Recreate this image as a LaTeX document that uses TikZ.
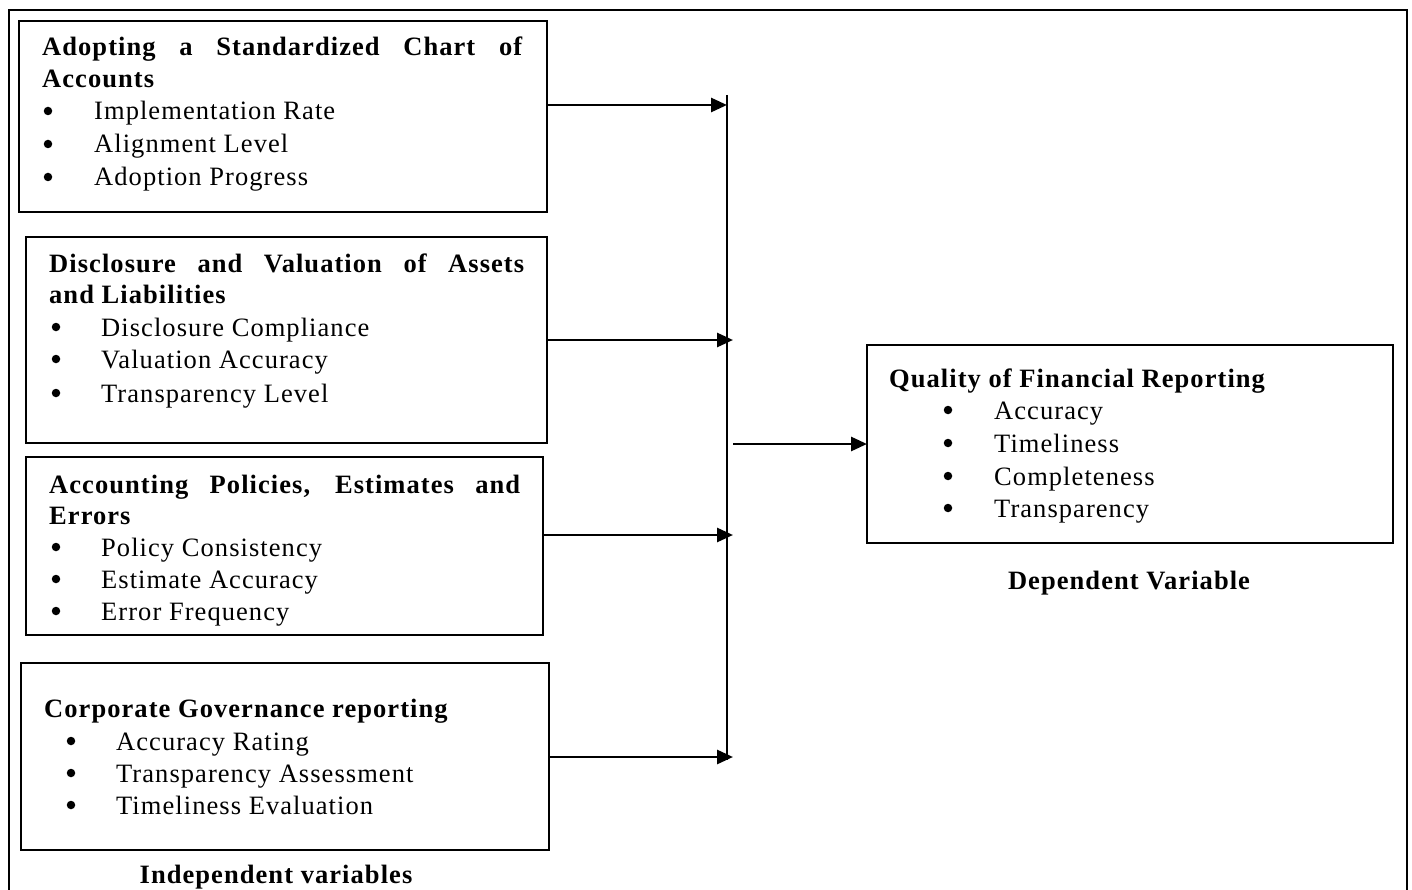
\documentclass[tikz,border=0pt]{standalone}
\usepackage{fontspec}
\setmainfont{Liberation Serif}[LetterSpace=4]
\usetikzlibrary{arrows.meta}
\begin{document}
\begin{tikzpicture}[x=1pt,y=-1pt,
  box/.style={draw, line width=2.8pt, inner sep=0pt, outer sep=0pt},
  ttl/.style={anchor=base west, inner sep=0pt, font=\fontsize{26.5}{30}\selectfont\bfseries},
  itm/.style={anchor=base west, inner sep=0pt, font=\fontsize{26.5}{30}\selectfont},
  bul/.style={circle, fill, inner sep=0pt, minimum size=8.5pt},
  lbl/.style={anchor=base, inner sep=0pt, font=\fontsize{26.5}{30}\selectfont\bfseries},
  conn/.style={line width=2.8pt},
  arr/.style={line width=2.8pt, -{Triangle[length=16pt,width=14pt]}}]
\useasboundingbox (0,0) rectangle (1412,890);
\draw[line width=2pt] (9,895) -- (9,10) -- (1407,10) -- (1407,895);

% boxes
\node[box, minimum width=528pt, minimum height=191pt] (b1) at (283,116.5) {};
\node[box, minimum width=521pt, minimum height=206pt] (b2) at (286.5,340) {};
\node[box, minimum width=517pt, minimum height=178pt] (b3) at (284.5,546) {};
\node[box, minimum width=528pt, minimum height=187pt] (b4) at (285,756.5) {};
\node[box, minimum width=526pt, minimum height=198pt] (q) at (1130,444) {};

% box 1
\node[ttl] (t1a) at (42,56) {\makebox[480pt][s]{Adopting a Standardized Chart of}};
\node[ttl] (t1b) at (42,88) {Accounts};
\node[bul] (u11) at (48,111) {};
\node[bul] (u12) at (48,144) {};
\node[bul] (u13) at (48,177) {};
\node[itm] (i11) at (94,120) {Implementation Rate};
\node[itm] (i12) at (94,153) {Alignment Level};
\node[itm] (i13) at (94,186) {Adoption Progress};

% box 2
\node[ttl] (t2a) at (49,273) {\makebox[475pt][s]{Disclosure and Valuation of Assets}};
\node[ttl] (t2b) at (49,303) {and Liabilities};
\node[bul] (u21) at (56,327) {};
\node[bul] (u22) at (56,359) {};
\node[bul] (u23) at (56,393) {};
\node[itm] (i21) at (101,336) {Disclosure Compliance};
\node[itm] (i22) at (101,368) {Valuation Accuracy};
\node[itm] (i23) at (101,402) {Transparency Level};

% box 3
\node[ttl] (t3a) at (49,493) {\makebox[471pt][s]{Accounting Policies, Estimates and}};
\node[ttl] (t3b) at (49,524) {Errors};
\node[bul] (u31) at (56,547) {};
\node[bul] (u32) at (56,579) {};
\node[bul] (u33) at (56,611) {};
\node[itm] (i31) at (101,556) {Policy Consistency};
\node[itm] (i32) at (101,588) {Estimate Accuracy};
\node[itm] (i33) at (101,620) {Error Frequency};

% box 4
\node[ttl] (t4a) at (44,717) {Corporate Governance reporting};
\node[bul] (u41) at (71,741) {};
\node[bul] (u42) at (71,773) {};
\node[bul] (u43) at (71,805) {};
\node[itm] (i41) at (116,750) {Accuracy Rating};
\node[itm] (i42) at (116,782) {Transparency Assessment};
\node[itm] (i43) at (116,814) {Timeliness Evaluation};

% dependent box
\node[ttl] (tq) at (889,387) {Quality of Financial Reporting};
\node[bul] (uq1) at (948,410) {};
\node[bul] (uq2) at (948,443) {};
\node[bul] (uq3) at (948,476) {};
\node[bul] (uq4) at (948,508) {};
\node[itm] (iq1) at (994,419) {Accuracy};
\node[itm] (iq2) at (994,452) {Timeliness};
\node[itm] (iq3) at (994,485) {Completeness};
\node[itm] (iq4) at (994,517) {Transparency};

% labels
\node[lbl] (ldep) at (1129,589) {Dependent Variable};
\node[lbl] (lind) at (276,883) {Independent variables};

% connectors
\coordinate (bt) at (727,95);
\coordinate (bb) at (727,760);
\coordinate (j1) at (727,105);
\coordinate (j2) at (733,340);
\coordinate (j3) at (733,535);
\coordinate (j4) at (733,757);
\coordinate (c0) at (733,444);
\draw[conn] (bt) -- (bb);
\draw[arr] (b1.east |- j1) -- (j1);
\draw[arr] (b2.east |- j2) -- (j2);
\draw[arr] (b3.east |- j3) -- (j3);
\draw[arr] (b4.east |- j4) -- (j4);
\draw[arr] (c0) -- (q.west);
\end{tikzpicture}
\end{document}
